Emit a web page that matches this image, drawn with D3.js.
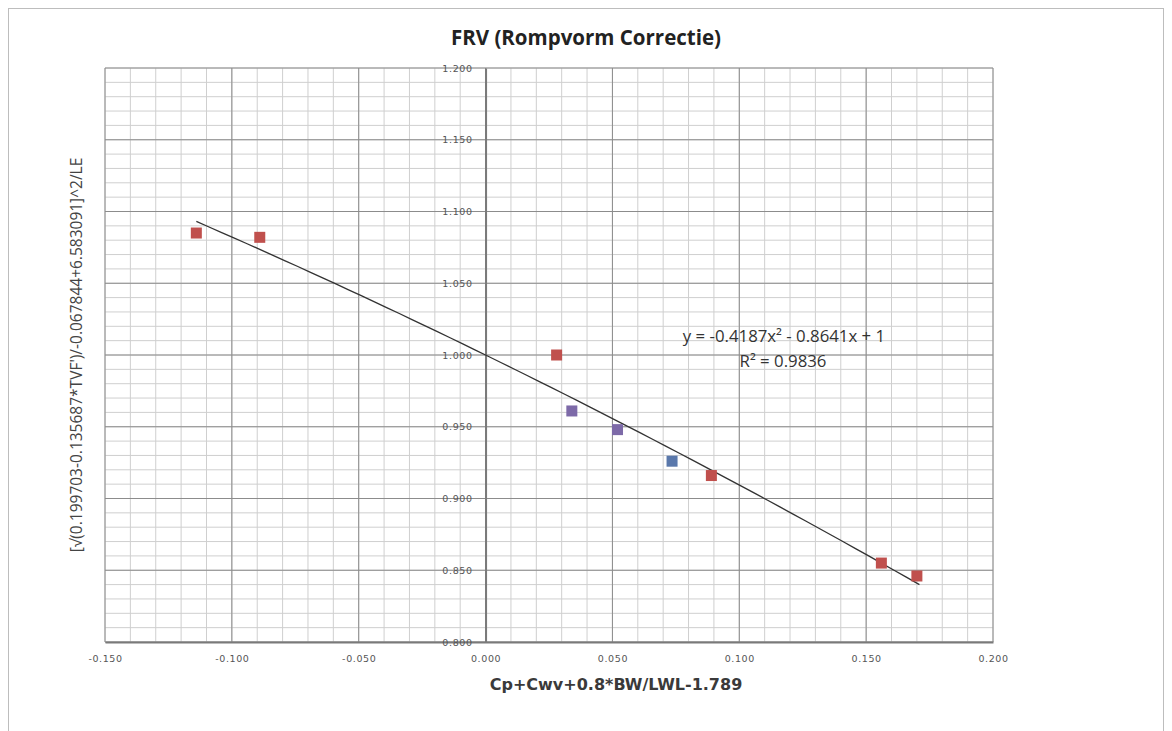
<!DOCTYPE html>
<html>
<head>
<meta charset="utf-8">
<script src="https://cdn.jsdelivr.net/npm/d3@7"></script>
<style>
  body { margin: 0; background: #fff; }
  svg { display: block; }
</style>
</head>
<body>
<svg id="chart" width="1172" height="731"></svg>
<script>
// data
const redX = [-0.114, -0.089, 0.028, 0.089, 0.156, 0.170];
const redY = [1.085, 1.082, 1.000, 0.916, 0.855, 0.846];
const purpleX = [0.034, 0.052];
const purpleY = [0.961, 0.948];
const blueX = [0.0735];
const blueY = [0.926];
const trendCoef = [-0.4187, -0.8641, 1]; // a x^2 + b x + c
const trendRange = [-0.114, 0.171];
const xTicks = [-0.150, -0.100, -0.050, 0.000, 0.050, 0.100, 0.150, 0.200];
const yTicks = [0.800, 0.850, 0.900, 0.950, 1.000, 1.050, 1.100, 1.150, 1.200];

const svg = d3.select('#chart');
const L = 105, R = 993, T = 68, B = 642;

const x = d3.scaleLinear().domain([-0.15, 0.2]).range([L, R]);
const y = d3.scaleLinear().domain([0.8, 1.2]).range([B, T]);
const fmt = d => d.toFixed(3);

// chart frame
svg.append('rect')
    .attr('x', 8.5).attr('y', 8.5)
    .attr('width', 1155).attr('height', 740)
    .attr('fill', '#fff')
    .attr('stroke', '#bdbdbd');

// minor gridlines
const minorX = d3.range(-0.15, 0.2001, 0.01);
const minorY = d3.range(0.8, 1.2001, 0.01);
const grid = svg.append('g');
grid.selectAll('.mx').data(minorX).enter().append('line')
    .attr('x1', d => x(d)).attr('x2', d => x(d))
    .attr('y1', T).attr('y2', B)
    .attr('stroke', '#cfcfcf').attr('stroke-width', 1);
grid.selectAll('.my').data(minorY).enter().append('line')
    .attr('y1', d => y(d)).attr('y2', d => y(d))
    .attr('x1', L).attr('x2', R)
    .attr('stroke', '#cfcfcf').attr('stroke-width', 1);

// major gridlines
grid.selectAll('.Mx').data(xTicks).enter().append('line')
    .attr('x1', d => x(d)).attr('x2', d => x(d))
    .attr('y1', T).attr('y2', B)
    .attr('stroke', '#8c8c8c').attr('stroke-width', 1);
grid.selectAll('.My').data(yTicks).enter().append('line')
    .attr('y1', d => y(d)).attr('y2', d => y(d))
    .attr('x1', L).attr('x2', R)
    .attr('stroke', '#8c8c8c').attr('stroke-width', 1);

// x axis at bottom
const xAxis = d3.axisBottom(x).tickValues(xTicks).tickFormat(fmt).tickSize(0).tickPadding(13);
const gx = svg.append('g').attr('transform', `translate(0,${B})`).call(xAxis);
gx.select('.domain').attr('stroke', '#7a7a7a').attr('stroke-width', 2);
gx.selectAll('text').attr('font-family', 'DejaVu Sans').attr('font-size', 9.5)
    .attr('letter-spacing', 0.6).attr('fill', '#555');

// y axis crossing at x = 0
const yAxis = d3.axisLeft(y).tickValues(yTicks).tickFormat(fmt).tickSize(0).tickPadding(13);
const gy = svg.append('g').attr('transform', `translate(${x(0)},0)`).call(yAxis);
gy.select('.domain').attr('stroke', '#7a7a7a').attr('stroke-width', 2);
gy.selectAll('text').attr('font-family', 'DejaVu Sans').attr('font-size', 9.5)
    .attr('letter-spacing', 0.6).attr('fill', '#555');

// trendline from the shown equation
const poly = t => trendCoef[0] * t * t + trendCoef[1] * t + trendCoef[2];
const tx = d3.range(trendRange[0], trendRange[1] + 1e-9, 0.005);
svg.append('path')
    .datum(tx)
    .attr('fill', 'none')
    .attr('stroke', '#333')
    .attr('stroke-width', 1.3)
    .attr('d', d3.line().x(d => x(d)).y(d => y(poly(d))));

// markers
const SZ = 11;
function squares(xs, ys, color) {
    svg.append('g').selectAll('rect').data(xs).enter().append('rect')
        .attr('x', d => x(d) - SZ / 2)
        .attr('y', (d, i) => y(ys[i]) - SZ / 2)
        .attr('width', SZ).attr('height', SZ)
        .attr('fill', color);
}
squares(redX, redY, '#c0504d');
squares(purpleX, purpleY, '#7d6aa8');
squares(blueX, blueY, '#5a78ab');

// trend label
svg.append('text')
    .attr('x', 784).attr('y', 342)
    .attr('text-anchor', 'middle')
    .attr('font-family', 'Open Sans').attr('font-size', 16.8).attr('fill', '#333')
    .text('y = -0.4187x² - 0.8641x + 1');
svg.append('text')
    .attr('x', 783).attr('y', 367)
    .attr('text-anchor', 'middle')
    .attr('font-family', 'Open Sans').attr('font-size', 16.8).attr('fill', '#333')
    .text('R² = 0.9836');

// titles
svg.append('text')
    .attr('x', 586).attr('y', 45)
    .attr('text-anchor', 'middle')
    .attr('font-family', 'Open Sans').attr('font-weight', 'bold').attr('font-size', 20.5).attr('fill', '#222')
    .text('FRV (Rompvorm Correctie)');

svg.append('text')
    .attr('x', 616).attr('y', 690)
    .attr('text-anchor', 'middle')
    .attr('font-family', 'DejaVu Sans').attr('font-weight', 'bold').attr('font-size', 16).attr('fill', '#3a3a3a')
    .text('Cp+Cwv+0.8*BW/LWL-1.789');

svg.append('text')
    .attr('transform', `translate(82,${(T + B) / 2}) rotate(-90)`)
    .attr('text-anchor', 'middle')
    .attr('font-family', 'Open Sans').attr('font-size', 15.5).attr('fill', '#444')
    .text("[√(0.199703-0.135687*TVF')/-0.067844+6.583091]^2/LE");
</script>
</body>
</html>
